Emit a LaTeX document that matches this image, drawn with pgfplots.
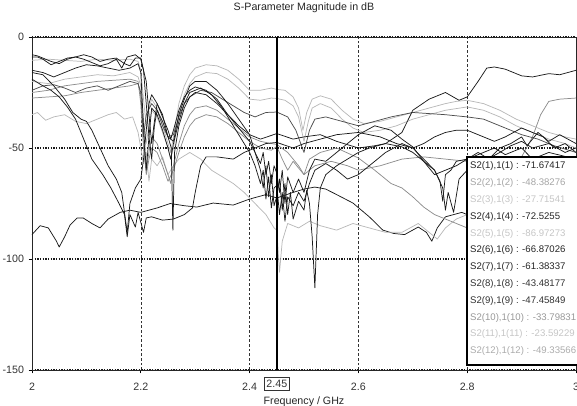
\documentclass[border=0pt]{standalone}
\usepackage{fontspec}
\setmainfont{Liberation Sans}
\usepackage{pgfplots}
\pgfplotsset{compat=1.18}
\definecolor{cblack}{gray}{0.1}
\definecolor{cdark}{gray}{0.3}
\definecolor{cgray}{gray}{0.55}
\definecolor{clight}{gray}{0.72}
\begin{document}
\begin{tikzpicture}
\path[use as bounding box] (-24pt,-27pt) rectangle (408.75pt,277.5pt);
\begin{axis}[
  scale only axis, width=408pt, height=249.75pt, at={(0,0)}, anchor=south west,
  xmin=2, xmax=3, ymin=-150, ymax=0,
  xtick={2,2.2,2.4,2.6,2.8,3}, xticklabels={2,2.2,2.4,2.6,2.8,3},
  ytick={-150,-100,-50,0}, yticklabels={-150,-100,-50,0},
  xtick pos=left, ytick pos=left, tick align=outside, major tick length=2.5pt,
  tick style={black, line width=0.5pt},
  ticklabel style={font=\fontsize{8}{9.6}\selectfont, text=black!80},
  xticklabel style={yshift=-4pt},
  xmajorgrids, ymajorgrids,
  x grid style={black!80, dash pattern=on 2pt off 1.5pt, line width=0.45pt},
  y grid style={black!90, dash pattern=on 1pt off 1pt, line width=0.8pt},
  axis line style={black!85, line width=0.7pt},
  title={S-Parameter Magnitude in dB},
  title style={font=\fontsize{8}{9.6}\selectfont, at={(0.5,1)}, anchor=base, yshift=13.5pt, text=black!85},
  xlabel={Frequency / GHz},
  xlabel style={font=\fontsize{8}{9.6}\selectfont, at={(0.5,0)}, anchor=base, yshift=-25.5pt, text=black!85},
  clip=false,
  every axis plot/.append style={line width=0.55pt, line join=round, mark=none},
]
% S2(4),1(4) bottom line
\addplot[cblack] coordinates {(2.0,-89)(2.015,-85)(2.03,-86)(2.045,-92)(2.05,-94.6)(2.06,-90)(2.07,-84.7)(2.083,-81.5)(2.094,-81.5)(2.11,-84)(2.125,-86)(2.14,-82)(2.162,-79)(2.18,-78)(2.2,-79)(2.23,-77)(2.254,-75)(2.28,-76)(2.303,-76.6)(2.333,-74.8)(2.37,-75.7)(2.4,-73)(2.43,-71)(2.45,-72.5)(2.48,-70)(2.5,-68.5)(2.52,-67.6)(2.54,-68.5)(2.56,-71)(2.59,-74.8)(2.62,-81)(2.645,-87)(2.665,-88.5)(2.685,-89)(2.71,-85.6)(2.725,-88)(2.735,-92)(2.745,-86)(2.76,-81)(2.79,-79)(2.8,-80)(2.85,-82)(2.9,-85)(3.0,-85)};
% S2(5),1(5) light gray
\addplot[clight] coordinates {(2.0,-35)(2.01,-34)(2.025,-37.5)(2.04,-36)(2.06,-35)(2.08,-38)(2.1,-39)(2.12,-37)(2.14,-35)(2.155,-34)(2.17,-37)(2.185,-36)(2.195,-43)(2.2,-50)(2.205,-57)(2.21,-52)(2.215,-65)(2.22,-55)(2.23,-58)(2.24,-54)(2.25,-62)(2.26,-58)(2.27,-55)(2.29,-52)(2.31,-55)(2.33,-60)(2.35,-63)(2.37,-66)(2.39,-70)(2.41,-75)(2.43,-80)(2.445,-86)(2.45,-87)(2.455,-106)(2.46,-92)(2.47,-84)(2.49,-86)(2.51,-83)(2.53,-85)(2.56,-87)(2.59,-84)(2.62,-86)(2.65,-88)(2.68,-88)(2.71,-84)(2.73,-88)(2.745,-91)(2.76,-86)(2.78,-82)(2.8,-80)(2.9,-82)(3.0,-85)};
% S2(12),1(12)
\addplot[cgray] coordinates {(2.0,-27.5)(2.03,-27)(2.06,-26.5)(2.09,-25)(2.12,-24)(2.15,-23)(2.18,-22)(2.195,-21)(2.2,-26)(2.205,-48)(2.21,-62)(2.215,-55)(2.22,-50)(2.23,-52)(2.24,-58)(2.25,-65)(2.26,-60)(2.27,-52)(2.28,-45)(2.29,-40)(2.3,-37)(2.32,-35)(2.34,-36)(2.36,-39)(2.38,-43)(2.4,-47)(2.42,-50)(2.44,-51)(2.45,-49.3)(2.46,-55)(2.47,-60)(2.48,-56)(2.5,-62)(2.52,-58)(2.55,-56)(2.58,-58)(2.6,-60)(2.64,-58)(2.68,-55)(2.72,-54)(2.76,-55)(2.8,-56)(2.84,-57)(2.88,-55)(2.9,-54)(2.92,-45)(2.935,-35)(2.95,-29)(2.97,-28)(3.0,-27.5)};
% S2(2),1(2)
\addplot[cgray] coordinates {(2.0,-25)(2.03,-24)(2.06,-22)(2.09,-21)(2.12,-20)(2.15,-19.5)(2.18,-19)(2.195,-20)(2.2,-30)(2.205,-50)(2.21,-60)(2.215,-52)(2.22,-45)(2.23,-48)(2.24,-55)(2.25,-62)(2.255,-66)(2.26,-58)(2.27,-48)(2.28,-40)(2.29,-35)(2.3,-32)(2.32,-31)(2.34,-33)(2.36,-37)(2.38,-41)(2.4,-45)(2.42,-47)(2.44,-48)(2.45,-48.4)(2.47,-52)(2.49,-58)(2.5,-62)(2.51,-55)(2.53,-52)(2.56,-50)(2.6,-54.5)(2.63,-60)(2.66,-66)(2.68,-68)(2.7,-72)(2.72,-76.6)(2.74,-80)(2.76,-82)(2.8,-86)(2.85,-80)(2.9,-75)(3.0,-70)};
% S2(3),1(3)
\addplot[clight] coordinates {(2.0,-20)(2.03,-21)(2.06,-19)(2.09,-18)(2.12,-17)(2.15,-17.5)(2.18,-16)(2.195,-18)(2.2,-22)(2.205,-38)(2.21,-48)(2.215,-40)(2.22,-33)(2.23,-36)(2.24,-43)(2.25,-50)(2.255,-55)(2.26,-50)(2.27,-35)(2.28,-26)(2.29,-21)(2.3,-18)(2.32,-16)(2.34,-16.5)(2.36,-19)(2.38,-23)(2.4,-28)(2.42,-28.5)(2.44,-27.5)(2.45,-27.7)(2.465,-28.5)(2.48,-31)(2.49,-36)(2.5,-47)(2.508,-38)(2.515,-32)(2.53,-30)(2.55,-32)(2.57,-37)(2.59,-41)(2.61,-43)(2.64,-42)(2.67,-40)(2.7,-37)(2.73,-35)(2.76,-33)(2.8,-31.5)(2.83,-33)(2.86,-36)(2.89,-40)(2.92,-43)(2.95,-46)(2.98,-48)(3.0,-50)};
% S2(11),1(11)
\addplot[clight] coordinates {(2.0,-10.5)(2.03,-10)(2.06,-10.5)(2.09,-11)(2.12,-10)(2.15,-10.5)(2.18,-10)(2.195,-11)(2.2,-15)(2.205,-28)(2.21,-40)(2.215,-32)(2.22,-28)(2.23,-32)(2.24,-40)(2.25,-48)(2.255,-52)(2.26,-45)(2.27,-30)(2.28,-22)(2.29,-17)(2.3,-14)(2.32,-12.5)(2.34,-13)(2.36,-15)(2.38,-19)(2.4,-24)(2.42,-24)(2.44,-23)(2.45,-23.6)(2.465,-24)(2.48,-27)(2.49,-32)(2.498,-42)(2.505,-34)(2.515,-28)(2.53,-26.5)(2.55,-28)(2.57,-33)(2.59,-37)(2.61,-39)(2.64,-38)(2.67,-36)(2.7,-34)(2.73,-32)(2.76,-30)(2.78,-29)(2.8,-28.5)(2.83,-30)(2.86,-33)(2.89,-37)(2.92,-40)(2.95,-43)(2.98,-45)(3.0,-46)};
% S2(10),1(10)
\addplot[cdark] coordinates {(2.0,-24)(2.02,-22)(2.04,-21.5)(2.06,-23)(2.08,-25)(2.1,-23)(2.12,-22)(2.14,-24)(2.16,-22)(2.18,-20)(2.195,-21)(2.2,-25)(2.205,-45)(2.21,-35)(2.22,-30)(2.23,-33)(2.24,-40)(2.25,-45)(2.26,-44)(2.27,-36)(2.28,-30)(2.29,-27)(2.31,-24)(2.33,-25)(2.35,-28)(2.37,-31)(2.39,-34)(2.41,-36)(2.43,-34)(2.45,-33.8)(2.47,-36)(2.485,-42)(2.5,-52)(2.51,-42)(2.52,-37)(2.54,-36)(2.57,-38)(2.6,-40)(2.63,-38)(2.66,-36)(2.7,-34)(2.73,-34.5)(2.76,-35)(2.8,-36)(2.83,-37)(2.86,-40)(2.9,-44)(2.93,-46)(2.96,-49)(3.0,-52)};
% S2(9),1(9)
\addplot[cblack] coordinates {(2.0,-19)(2.02,-22)(2.035,-24)(2.05,-27)(2.065,-31.5)(2.08,-37)(2.095,-46)(2.11,-55)(2.13,-62)(2.145,-68)(2.16,-75)(2.17,-80)(2.175,-90)(2.18,-80)(2.19,-85.6)(2.195,-79)(2.205,-88)(2.21,-81.5)(2.22,-81)(2.24,-82.5)(2.26,-82)(2.28,-80)(2.295,-77)(2.3,-70)(2.31,-58)(2.32,-54)(2.34,-54)(2.37,-55)(2.39,-52)(2.41,-50)(2.43,-48)(2.45,-47.5)(2.48,-50)(2.5,-48)(2.53,-46)(2.56,-44)(2.6,-43)(2.64,-45)(2.67,-48)(2.7,-50)(2.72,-48)(2.74,-45)(2.76,-43)(2.78,-42)(2.8,-42)(2.83,-45)(2.85,-47)(2.87,-45)(2.9,-41)(2.92,-43)(2.94,-45)(2.96,-50)(2.98,-48)(3.0,-52)};
% S2(8),1(8)
\addplot[cblack] coordinates {(2.0,-9)(2.01,-9)(2.02,-10)(2.035,-12.5)(2.05,-11)(2.065,-9.5)(2.08,-9)(2.095,-10)(2.11,-11.5)(2.125,-13)(2.14,-12)(2.155,-10)(2.165,-14)(2.175,-9)(2.19,-8)(2.2,-10)(2.21,-20)(2.215,-35)(2.22,-48)(2.225,-38)(2.23,-30)(2.24,-35)(2.25,-45)(2.256,-50)(2.259,-87)(2.262,-52)(2.27,-40)(2.28,-32)(2.29,-27)(2.3,-25)(2.32,-26)(2.34,-30)(2.36,-35)(2.38,-40)(2.4,-44)(2.42,-46)(2.45,-43.5)(2.48,-46)(2.5,-45)(2.53,-44)(2.56,-47)(2.6,-50)(2.63,-49)(2.65,-48)(2.68,-43)(2.7,-33)(2.73,-28)(2.76,-25)(2.785,-28.5)(2.8,-27)(2.82,-20)(2.836,-14)(2.85,-13.5)(2.87,-14.5)(2.9,-17.5)(2.92,-18)(2.95,-16.5)(2.97,-17)(3.0,-15)};
% S2(7),1(7)
\addplot[cblack] coordinates {(2.0,-16)(2.02,-17)(2.04,-22)(2.06,-28)(2.075,-34)(2.09,-37)(2.1,-38)(2.11,-42)(2.125,-50)(2.14,-58)(2.155,-64)(2.165,-70)(2.175,-88)(2.18,-75)(2.19,-68)(2.2,-64)(2.205,-55)(2.21,-42)(2.215,-30)(2.22,-26)(2.23,-30)(2.24,-36)(2.25,-42)(2.255,-46)(2.26,-42)(2.27,-33)(2.28,-27)(2.29,-24)(2.3,-22.5)(2.32,-24)(2.34,-28)(2.36,-35)(2.38,-41)(2.4,-47)(2.41,-52)(2.42,-57)(2.425,-52)(2.43,-62)(2.435,-56)(2.44,-66)(2.445,-58)(2.45,-61.4)(2.455,-70)(2.46,-60)(2.465,-75)(2.47,-63)(2.48,-70)(2.49,-64)(2.5,-70)(2.51,-60)(2.52,-55)(2.54,-56)(2.56,-52)(2.58,-48)(2.6,-44)(2.63,-40)(2.66,-42)(2.68,-46)(2.7,-49.5)(2.72,-56)(2.74,-60)(2.75,-65)(2.755,-74)(2.76,-62)(2.77,-60)(2.78,-56)(2.8,-55)(2.82,-52)(2.84,-55)(2.86,-50)(2.88,-48)(2.9,-45)(2.91,-49)(2.93,-43)(2.95,-47)(2.97,-44)(3.0,-48)};
% S2(6),1(6)
\addplot[cblack] coordinates {(2.0,-15)(2.02,-16)(2.04,-18)(2.06,-16)(2.08,-14)(2.1,-12.5)(2.12,-13)(2.14,-14)(2.16,-15)(2.18,-14)(2.195,-12)(2.2,-16)(2.205,-40)(2.21,-60)(2.215,-45)(2.22,-32)(2.23,-35)(2.24,-42)(2.25,-50)(2.255,-55)(2.26,-48)(2.27,-38)(2.28,-30)(2.29,-25)(2.31,-23)(2.33,-26)(2.35,-32)(2.37,-40)(2.39,-48)(2.4,-52)(2.41,-58)(2.42,-66)(2.425,-60)(2.43,-73)(2.435,-63)(2.44,-77)(2.445,-68)(2.45,-66.9)(2.455,-80)(2.46,-70)(2.465,-83)(2.47,-72)(2.48,-76)(2.49,-70)(2.5,-74)(2.51,-66)(2.52,-60)(2.54,-57)(2.56,-60)(2.58,-64)(2.6,-62)(2.62,-58)(2.65,-52)(2.68,-48)(2.7,-50)(2.72,-55)(2.74,-60)(2.755,-68)(2.76,-78)(2.765,-70)(2.775,-79)(2.785,-64)(2.8,-60)(2.83,-56)(2.86,-52)(2.88,-49)(2.9,-47)(2.92,-50)(2.95,-48)(2.98,-52)(3.0,-50)};
% S2(1),1(1)
\addplot[cblack] coordinates {(2.0,-8)(2.01,-8.5)(2.02,-9.5)(2.035,-11)(2.05,-12)(2.065,-10)(2.08,-9)(2.095,-8)(2.11,-9)(2.125,-11)(2.14,-10)(2.155,-9.5)(2.17,-12)(2.18,-13)(2.19,-9.5)(2.2,-9.5)(2.205,-15)(2.21,-30)(2.215,-45)(2.22,-55)(2.225,-40)(2.23,-33)(2.24,-38)(2.25,-45)(2.26,-47)(2.27,-35)(2.28,-28)(2.29,-22)(2.3,-20)(2.32,-20)(2.34,-24)(2.36,-30)(2.38,-37)(2.4,-44)(2.41,-52)(2.42,-60)(2.425,-68)(2.43,-58)(2.435,-72)(2.44,-62)(2.445,-76)(2.45,-71.7)(2.455,-64)(2.46,-78)(2.465,-66)(2.47,-80)(2.475,-70)(2.48,-82)(2.49,-74)(2.5,-78)(2.505,-69)(2.51,-75)(2.515,-90)(2.52,-113)(2.525,-80)(2.53,-68)(2.54,-62)(2.56,-58)(2.58,-55)(2.6,-52)(2.62,-50)(2.65,-48)(2.68,-49.5)(2.7,-52)(2.72,-56)(2.74,-62)(2.76,-60)(2.78,-58)(2.8,-55)(2.83,-52)(2.85,-50)(2.87,-53)(2.9,-50)(2.92,-55)(2.95,-52)(3.0,-55)};
% cursor
\draw[black, line width=1.5pt] (axis cs:2.45,0) -- (axis cs:2.45,-150);
\node[draw=black!80, line width=0.6pt, inner sep=1.8pt, anchor=north, yshift=-5.5pt, font=\fontsize{8}{9.6}\selectfont, text=black!80] at (axis cs:2.45,-150) {2.45};
% legend
\draw[black, line width=1.3pt, fill=white] (axis cs:2.8,-54.2) rectangle (axis cs:3.03,-147.8);
\node[anchor=north west, inner sep=0pt, xshift=2pt, yshift=-3.3pt, align=left, font=\fontsize{7.2}{12.6}\selectfont] at (axis cs:2.8,-54.2) {%
\textcolor{black!85}{S2(1),1(1) : -71.67417}\\
\textcolor{gray!70}{S2(2),1(2) : -48.38276}\\
\textcolor{gray!45}{S2(3),1(3) : -27.71541}\\
\textcolor{black!85}{S2(4),1(4) : -72.5255}\\
\textcolor{gray!45}{S2(5),1(5) : -86.97273}\\
\textcolor{black!85}{S2(6),1(6) : -66.87026}\\
\textcolor{black!85}{S2(7),1(7) : -61.38337}\\
\textcolor{black!80}{S2(8),1(8) : -43.48177}\\
\textcolor{black!80}{S2(9),1(9) : -47.45849}\\
\textcolor{gray!80}{S2(10),1(10) : -33.79831}\\
\textcolor{gray!45}{S2(11),1(11) : -23.59229}\\
\textcolor{gray!65}{S2(12),1(12) : -49.33566}};
\end{axis}
\end{tikzpicture}
\end{document}
